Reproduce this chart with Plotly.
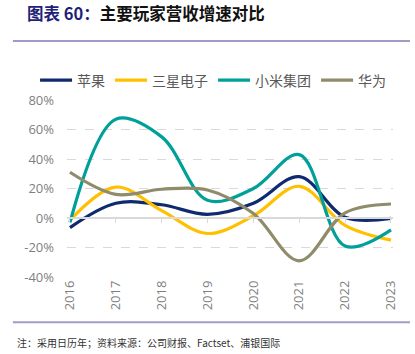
import plotly.graph_objects as go

years = [2016, 2017, 2018, 2019, 2020, 2021, 2022, 2023]
apple = [-6.5, 10, 9, 2.5, 10, 28, 0.5, -0.3]
samsung = [-1.5, 21, 5, -10.5, 1.5, 21.5, -5, -15]
xiaomi = [-3, 67, 55, 12, 20, 43, -19, -8]
huawei = [31, 16, 19.5, 19, 3, -29, 3.5, 9.5]
ytick_vals = [-40, -20, 0, 20, 40, 60, 80]
ytick_text = [f"{v}%" for v in ytick_vals]

series = [
    ("苹果", apple, "#0f2a6e"),
    ("三星电子", samsung, "#ffc000"),
    ("小米集团", xiaomi, "#00a09a"),
    ("华为", huawei, "#8f8b6b"),
]

fig = go.Figure()
for name, vals, color in series:
    fig.add_trace(go.Scatter(
        x=years, y=vals, name=name, mode="lines",
        line=dict(color=color, width=3.2, shape="spline", smoothing=1.0),
    ))

font_family = "Noto Sans CJK SC, Noto Sans, sans-serif"
fig.update_layout(
    width=415, height=354,
    margin=dict(l=67, r=22, t=100, b=77),
    paper_bgcolor="white", plot_bgcolor="white",
    font=dict(family=font_family, color="#595959"),
    showlegend=True,
    legend=dict(orientation="h", x=-0.098, xanchor="left", y=1.11, yanchor="middle",
                bgcolor="rgba(0,0,0,0)",
                font=dict(size=14, color="#595959"), itemwidth=32, tracegroupgap=0),
    xaxis=dict(range=[2015.935, 2023.044], tickvals=years, ticktext=[str(y) for y in years],
               tickangle=-90, showgrid=False, zeroline=False, showline=False,
               tickfont=dict(size=13, color="#7f7f7f", family="Open Sans, sans-serif"), ticks=""),
    xaxis2=dict(range=[2015.935, 2023.044], overlaying="x", anchor="free", position=1/3,
                tickvals=years, showticklabels=False, showgrid=False, zeroline=False,
                showline=True, linecolor="#d9d9d9", linewidth=1.5,
                ticks="outside", ticklen=4, tickcolor="#d9d9d9"),
    yaxis=dict(range=[-40, 80], tickvals=ytick_vals, ticktext=ytick_text,
               showgrid=True, gridcolor="#d9d9d9", griddash="dash", gridwidth=1,
               zeroline=False, showline=False, ticks="", ticklabelstandoff=12,
               tickfont=dict(size=13, color="#7f7f7f", family="Open Sans, sans-serif")),
)
# invisible helper trace to activate xaxis2
fig.add_trace(go.Scatter(x=[years[0]], y=[0], xaxis="x2", mode="markers",
                         marker=dict(opacity=0), showlegend=False, hoverinfo="skip"))

fig.add_annotation(
    text="<b><span style='color:#1f1f7a'>图表 60：</span>主要玩家营收增速对比</b>",
    xref="paper", yref="paper", x=-0.129, y=1.49, xanchor="left", yanchor="middle",
    showarrow=False, font=dict(size=16.5, color="#111111", family=font_family),
)
fig.add_annotation(
    text="注：采用日历年；资料来源：公司财报、Factset、浦银国际",
    xref="paper", yref="paper", x=-0.16, y=-0.37, xanchor="left", yanchor="middle",
    showarrow=False, font=dict(size=10, color="#333333", family=font_family),
)
for yy in [1.334, -0.256]:
    fig.add_shape(type="line", xref="paper", yref="paper", x0=-0.166, x1=1.052,
                  y0=yy, y1=yy, line=dict(color="#a09cc8", width=2))

fig.write_html("out.html")
